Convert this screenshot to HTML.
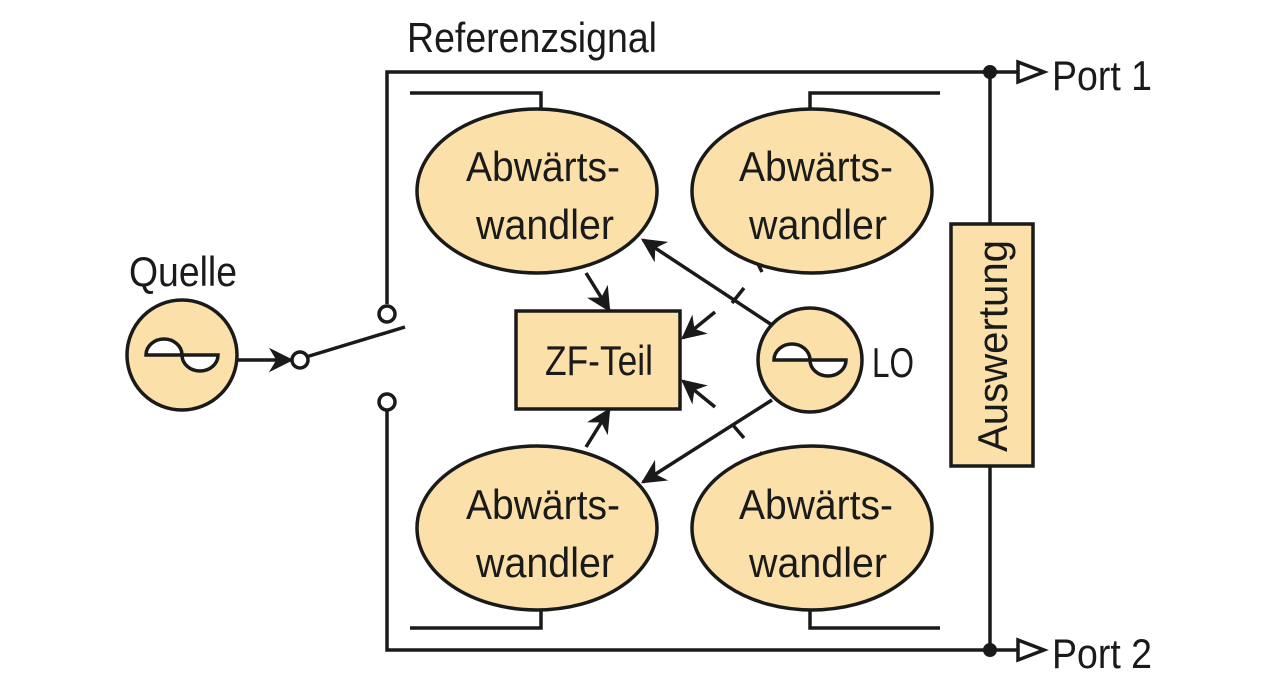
<!DOCTYPE html>
<html><head><meta charset="utf-8"><style>html,body{margin:0;padding:0;background:#fff}svg{display:block}</style></head>
<body>
<svg width="1280" height="687" viewBox="0 0 1280 687" xmlns="http://www.w3.org/2000/svg" font-family="'Liberation Sans Narrow','Liberation Sans',sans-serif" fill="#1a1a1a">
<defs>
<marker id="a" viewBox="0 0 10 10" refX="9" refY="5" markerWidth="7" markerHeight="7" markerUnits="strokeWidth" orient="auto"><path d="M0,0L10,5L0,10L3,5z" fill="#1a1a1a"/></marker>
</defs>
<g stroke="#1a1a1a" stroke-width="3.5" fill="none">
<polyline points="387,304 387,72 1018,72"/>
<polyline points="387,410 387,650 1018,650"/>
<line x1="990" y1="72" x2="990" y2="224"/>
<line x1="990" y1="466" x2="990" y2="650"/>
<polyline points="410,93 541,93 541,110"/>
<polyline points="940,93 810,93 810,110"/>
<polyline points="410,628 541,628 541,608"/>
<polyline points="940,628 810,628 810,608"/>
<line x1="238" y1="360" x2="291" y2="360" marker-end="url(#a)"/>
<line x1="306" y1="357" x2="405" y2="327"/>
<line x1="772" y1="325" x2="643" y2="240" marker-end="url(#a)"/>
<line x1="772" y1="400" x2="643" y2="482" marker-end="url(#a)"/>
<line x1="732" y1="303" x2="744" y2="288"/>
<line x1="732" y1="424" x2="744" y2="438"/>
<line x1="757" y1="262" x2="762" y2="272"/>
<line x1="757" y1="462" x2="762" y2="452"/>
<line x1="586" y1="273" x2="609" y2="310" marker-end="url(#a)"/>
<line x1="586" y1="447" x2="609" y2="410" marker-end="url(#a)"/>
<line x1="715" y1="312" x2="683" y2="338" marker-end="url(#a)"/>
<line x1="715" y1="407" x2="683" y2="381" marker-end="url(#a)"/>
</g>
<g stroke="#1a1a1a" stroke-width="3.5" fill="#fbe0aa">
<ellipse cx="537" cy="191" rx="120" ry="82"/>
<ellipse cx="812" cy="191" rx="120" ry="82"/>
<ellipse cx="537" cy="528" rx="120" ry="82"/>
<ellipse cx="812" cy="528" rx="120" ry="82"/>
<rect x="516" y="311" width="164" height="98"/>
<rect x="951" y="224" width="82" height="242"/>
<circle cx="182" cy="355" r="55"/>
<circle cx="810" cy="360" r="52"/>
</g>
<g stroke="#1a1a1a" stroke-width="3.5" fill="#fff">
<circle cx="387" cy="314" r="8"/>
<circle cx="387" cy="402" r="8"/>
<circle cx="300" cy="360" r="8"/>
<path d="M1018,62 L1044,72 L1018,82 Z"/>
<path d="M1018,640 L1044,650 L1018,660 Z"/>
</g>
<circle cx="990" cy="72" r="7"/>
<circle cx="990" cy="650" r="7"/>
<g stroke="#1a1a1a" stroke-width="3.5" fill="#fff">
<path d="M146,355 A18,16 0 0 1 182,355 Z"/><path d="M182,355 A18,16 0 0 0 218,355 Z"/>
<path d="M774,360 A18,16 0 0 1 810,360 Z"/><path d="M810,360 A18,16 0 0 0 846,360 Z"/>
</g>
<g font-size="42">
<text x="407" y="52" textLength="250" lengthAdjust="spacingAndGlyphs">Referenzsignal</text>
<text x="1052" y="90" textLength="100" lengthAdjust="spacingAndGlyphs">Port 1</text>
<text x="1052" y="668" textLength="100" lengthAdjust="spacingAndGlyphs">Port 2</text>
<text x="129" y="286" textLength="108" lengthAdjust="spacingAndGlyphs">Quelle</text>
<text x="872" y="377" textLength="42" lengthAdjust="spacingAndGlyphs">LO</text>
<text x="545" y="375" textLength="108" lengthAdjust="spacingAndGlyphs">ZF-Teil</text>
<text x="466" y="181" textLength="154" lengthAdjust="spacingAndGlyphs">Abwärts-</text>
<text x="476" y="239" textLength="138" lengthAdjust="spacingAndGlyphs">wandler</text>
<text x="739" y="181" textLength="154" lengthAdjust="spacingAndGlyphs">Abwärts-</text>
<text x="749" y="239" textLength="138" lengthAdjust="spacingAndGlyphs">wandler</text>
<text x="466" y="519" textLength="154" lengthAdjust="spacingAndGlyphs">Abwärts-</text>
<text x="476" y="577" textLength="138" lengthAdjust="spacingAndGlyphs">wandler</text>
<text x="739" y="519" textLength="154" lengthAdjust="spacingAndGlyphs">Abwärts-</text>
<text x="749" y="577" textLength="138" lengthAdjust="spacingAndGlyphs">wandler</text>
<text transform="translate(1007,452) rotate(-90)" x="0" y="0" textLength="212" lengthAdjust="spacingAndGlyphs">Auswertung</text>
</g>
</svg>
</body></html>
